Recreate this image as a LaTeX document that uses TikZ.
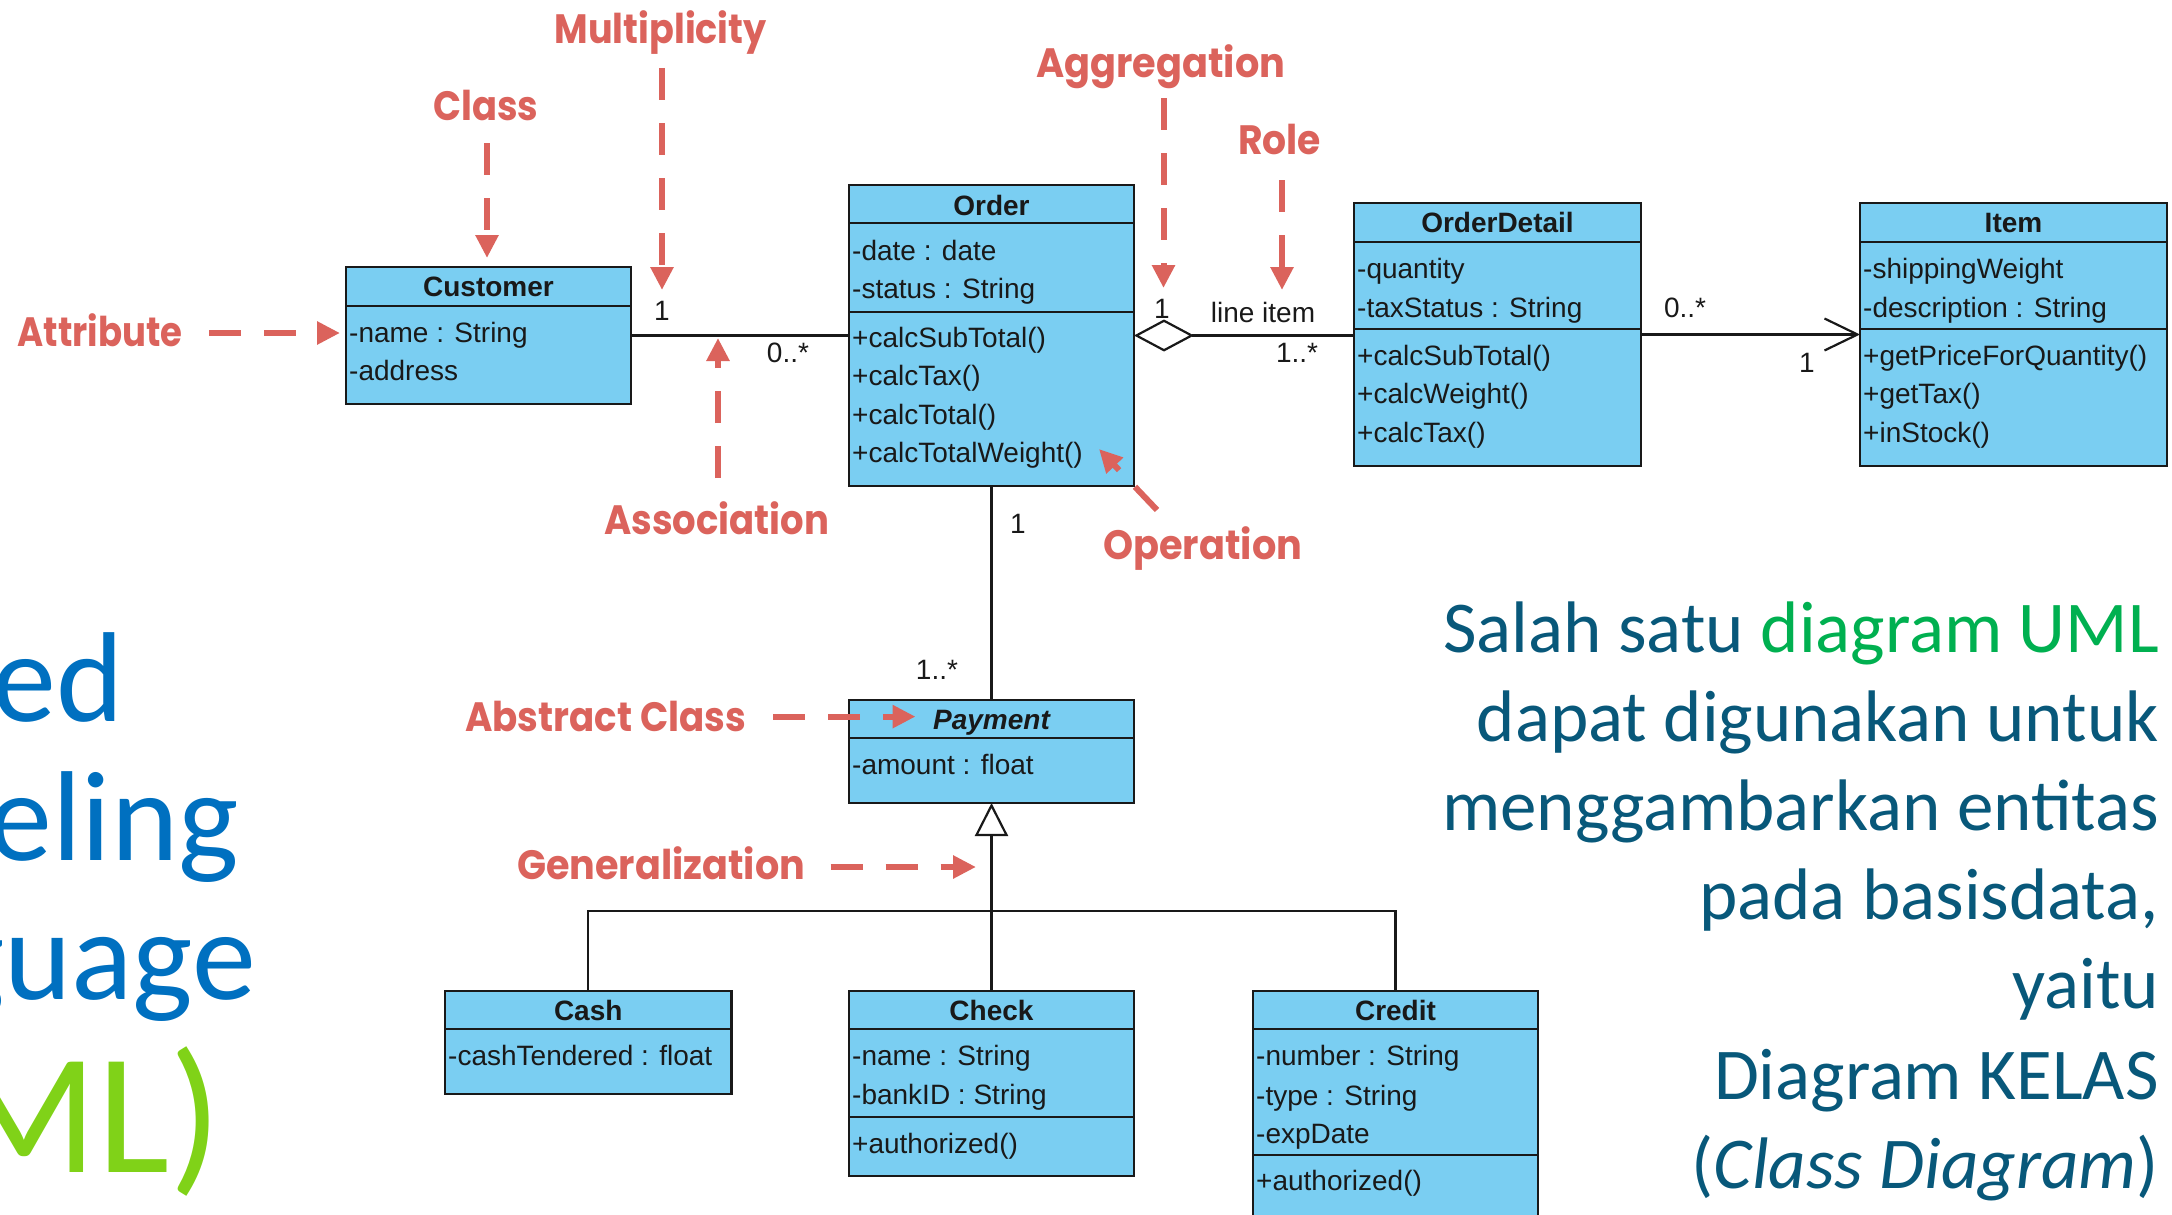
\documentclass[tikz,border=0pt]{standalone}
\usepackage{fontspec}
\usepackage{graphicx}
\setmainfont{Liberation Sans}
\newfontfamily\annfont{Poppins}
\newfontfamily\calib{Carlito}
\usetikzlibrary{arrows.meta}
\definecolor{boxfill}{RGB}{122,206,242}
\definecolor{boxline}{RGB}{25,25,25}
\definecolor{annred}{RGB}{219,99,92}
\definecolor{paratext}{RGB}{8,88,122}
\definecolor{umlgreen}{RGB}{0,176,80}
\definecolor{titleblue}{RGB}{0,112,192}
\definecolor{titlegreen}{RGB}{128,210,24}
\newcommand\umlfont{\fontsize{28}{34}\selectfont}
\newcommand\annlabel[2]{\resizebox{#1pt}{\height}{\annfont\bfseries\fontsize{41}{45}\selectfont #2}}
\begin{document}
\begin{tikzpicture}[x=1pt,y=-1pt,
  cls/.style={draw=boxline, fill=boxfill, line width=2.5pt, rectangle, inner sep=0pt, outer sep=0pt, anchor=north west},
  cline/.style={draw=boxline, line width=2.5pt},
  hdr/.style={anchor=base, inner sep=0pt, font=\umlfont\bfseries, text=boxline},
  mem/.style={anchor=base west, inner sep=0pt, font=\umlfont, text=boxline},
  mult/.style={anchor=base, inner sep=0pt, font=\umlfont, text=boxline},
  conn/.style={draw=boxline, line width=2.2pt},
  annarrow/.style={draw=annred, line width=6pt, dash pattern=on 32pt off 23pt, -{Triangle[length=23pt,width=22pt]}},
  annlbl/.style={anchor=base west, inner sep=0pt, text=annred},
  para/.style={anchor=base east, inner sep=0pt, font=\calib\fontsize{73}{87}\selectfont, text=paratext},
  ttl/.style={anchor=base east, inner sep=0pt, font=\calib\fontsize{128}{150}\selectfont, text=titleblue},
  ttlb/.style={anchor=base east, inner sep=0pt, font=\calib\fontsize{172}{200}\selectfont, text=titlegreen}
]
\useasboundingbox (0,0) rectangle (2172,1215);
\clip (0,0) rectangle (2172,1215);

% left title fragments
\node[ttl] (tl1) at (124,721) {ed};
\node[ttl] (tl2) at (239,860) {eling};
\node[ttl] (tl3) at (256,999) {guage};
\node[ttlb] (tl4) at (222,1172.5) {ML)};

% right paragraph
\node[para] (rt1) at (2159,652) {Salah satu {\color{umlgreen}diagram UML}};
\node[para] (rt2) at (2159,741) {dapat digunakan untuk};
\node[para] (rt3) at (2159,830) {menggambarkan entitas};
\node[para] (rt4) at (2159,919) {pada basisdata,};
\node[para] (rt5) at (2159,1008) {yaitu};
\node[para] (rt6) at (2159,1099) {Diagram KELAS};
\node[para] (rt7) at (2159,1188) {(\textit{Class Diagram})};

% class boxes
\node[cls, minimum width=285pt, minimum height=137pt] (customer) at (346,267) {};
\node[cls, minimum width=285pt, minimum height=301pt] (order) at (849,185) {};
\node[cls, minimum width=287pt, minimum height=263pt] (orderdetail) at (1354,203) {};
\node[cls, minimum width=307pt, minimum height=263pt] (item) at (1860,203) {};
\node[cls, minimum width=285pt, minimum height=103pt] (payment) at (849,700) {};
\node[cls, minimum width=286.5pt, minimum height=103pt] (cash) at (445,991) {};
\node[cls, minimum width=285pt, minimum height=185pt] (check) at (849,991) {};
\node[cls, minimum width=285pt, minimum height=260pt] (credit) at (1253,991) {};

% compartment lines
\draw[cline] (customer.west |- 0,306) -- (customer.east |- 0,306);
\draw[cline] (order.west |- 0,223) -- (order.east |- 0,223);
\draw[cline] (order.west |- 0,312) -- (order.east |- 0,312);
\draw[cline] (orderdetail.west |- 0,242) -- (orderdetail.east |- 0,242);
\draw[cline] (orderdetail.west |- 0,329) -- (orderdetail.east |- 0,329);
\draw[cline] (item.west |- 0,242) -- (item.east |- 0,242);
\draw[cline] (item.west |- 0,329) -- (item.east |- 0,329);
\draw[cline] (payment.west |- 0,738) -- (payment.east |- 0,738);
\draw[cline] (cash.west |- 0,1029) -- (cash.east |- 0,1029);
\draw[cline] (check.west |- 0,1029) -- (check.east |- 0,1029);
\draw[cline] (check.west |- 0,1117) -- (check.east |- 0,1117);
\draw[cline] (credit.west |- 0,1029) -- (credit.east |- 0,1029);
\draw[cline] (credit.west |- 0,1155) -- (credit.east |- 0,1155);

% class texts
\node[hdr] (customerH) at (488.5,296.5) {Customer};
\node[mem] (customerA1) at (349,342) {-name : String};
\node[mem] (customerA2) at (349,380) {-address};

\node[hdr] (orderH) at (991.5,215) {Order};
\node[mem] (orderA1) at (852,260) {-date : date};
\node[mem] (orderA2) at (852,298) {-status : String};
\node[mem] (orderO1) at (852,347) {+calcSubTotal()};
\node[mem] (orderO2) at (852,385.5) {+calcTax()};
\node[mem] (orderO3) at (852,424) {+calcTotal()};
\node[mem] (orderO4) at (852,462.5) {+calcTotalWeight()};

\node[hdr] (odH) at (1497.5,232.5) {OrderDetail};
\node[mem] (odA1) at (1357,278) {-quantity};
\node[mem] (odA2) at (1357,317) {-taxStatus : String};
\node[mem] (odO1) at (1357,365) {+calcSubTotal()};
\node[mem] (odO2) at (1357,403) {+calcWeight()};
\node[mem] (odO3) at (1357,442) {+calcTax()};

\node[hdr] (itemH) at (2013.5,232.5) {Item};
\node[mem] (itemA1) at (1863,278) {-shippingWeight};
\node[mem] (itemA2) at (1863,317) {-description : String};
\node[mem] (itemO1) at (1863,365) {+getPriceForQuantity()};
\node[mem] (itemO2) at (1863,403) {+getTax()};
\node[mem] (itemO3) at (1863,442) {+inStock()};

\node[hdr] (paymentH) at (991.5,729) {\itshape Payment};
\node[mem] (paymentA1) at (852,774) {-amount : float};

\node[hdr] (cashH) at (588.25,1020) {Cash};
\node[mem] (cashA1) at (448,1065) {-cashTendered : float};

\node[hdr] (checkH) at (991.5,1020) {Check};
\node[mem] (checkA1) at (852,1065) {-name : String};
\node[mem] (checkA2) at (852,1104) {-bankID : String};
\node[mem] (checkO1) at (852,1153) {+authorized()};

\node[hdr] (creditH) at (1395.5,1020) {Credit};
\node[mem] (creditA1) at (1256,1065) {-number : String};
\node[mem] (creditA2) at (1256,1105) {-type : String};
\node[mem] (creditA3) at (1256,1143) {-expDate};
\node[mem] (creditO1) at (1256,1190) {+authorized()};

% connectors
\draw[conn] (customer.east) -- (order.west);
\draw[conn, {Diamond[fill=white,length=60pt,width=32pt]}-] (order.east) -- (order.east -| orderdetail.west);
\draw[conn, -{Straight Barb[length=33pt,width=32pt]}] (orderdetail.east) -- (orderdetail.east -| item.west);
\draw[conn] (order.south) -- (payment.north);
\coordinate (gjoin) at (991.5,911);
\draw[conn, -{Triangle[fill=white,length=33pt,width=33pt]}] (check.north) -- (payment.south);
\draw[conn] (cash.north) |- (gjoin) -| (credit.north);

% multiplicities and role
\node[mult] (m1) at (662,320) {1};
\node[mult] (m2) at (788,362) {0..*};
\node[mult] (m3) at (1162,318) {1};
\node[mult] (role) at (1263,322) {line item};
\node[mult] (m4) at (1297,362) {1..*};
\node[mult] (m5) at (1685,317) {0..*};
\node[mult] (m6) at (1807,372) {1};
\node[mult] (m7) at (1018,533) {1};
\node[mult] (m8) at (937,679) {1..*};

% annotation labels
\node[annlbl] (lMult) at (554.5,43.3) {\annlabel{212}{Multiplicity}};
\node[annlbl] (lClass) at (433,120.7) {\annlabel{105}{Class}};
\node[annlbl] (lAggr) at (1036,77.3) {\annlabel{249}{Aggregation}};
\node[annlbl] (lRole) at (1238,154) {\annlabel{83}{Role}};
\node[annlbl] (lAttr) at (17.5,346) {\annlabel{165}{Attribute}};
\node[annlbl] (lAssoc) at (604,534) {\annlabel{225}{Association}};
\node[annlbl] (lOper) at (1103,559.5) {\annlabel{199}{Operation}};
\node[annlbl] (lAbs) at (465,731) {\annlabel{281}{Abstract Class}};
\node[annlbl] (lGen) at (517,879.5) {\annlabel{288}{Generalization}};

% annotation arrows
\coordinate (aClassS) at (487,143);   \coordinate (aClassT) at (487,258);
\coordinate (aMultS) at (662,68);     \coordinate (aMultT) at (662,290);
\coordinate (aAggrS) at (1163.5,98);  \coordinate (aAggrT) at (1163.5,288);
\coordinate (aRoleS) at (1282,180);   \coordinate (aRoleT) at (1282,290);
\coordinate (aAttrS) at (209,333);    \coordinate (aAttrT) at (340,333);
\coordinate (aAssocS) at (718,478);   \coordinate (aAssocT) at (718,338);
\coordinate (aAbsS) at (773,716.6);   \coordinate (aAbsT) at (915.5,716.6);
\coordinate (aGenS) at (830.6,867);   \coordinate (aGenT) at (976,867);
\coordinate (aOperS) at (1157,510);   \coordinate (aOperT) at (1099,449);
\draw[annarrow] (aClassS) -- (aClassT);
\draw[annarrow] (aMultS) -- (aMultT);
\draw[annarrow] (aAggrS) -- (aAggrT);
\draw[annarrow] (aRoleS) -- (aRoleT);
\draw[annarrow] (aAttrS) -- (aAttrT);
\draw[annarrow] (aAssocS) -- (aAssocT);
\draw[annarrow] (aAbsS) -- (aAbsT);
\draw[annarrow] (aGenS) -- (aGenT);
\draw[annarrow] (aOperS) -- (aOperT);
\end{tikzpicture}
\end{document}
